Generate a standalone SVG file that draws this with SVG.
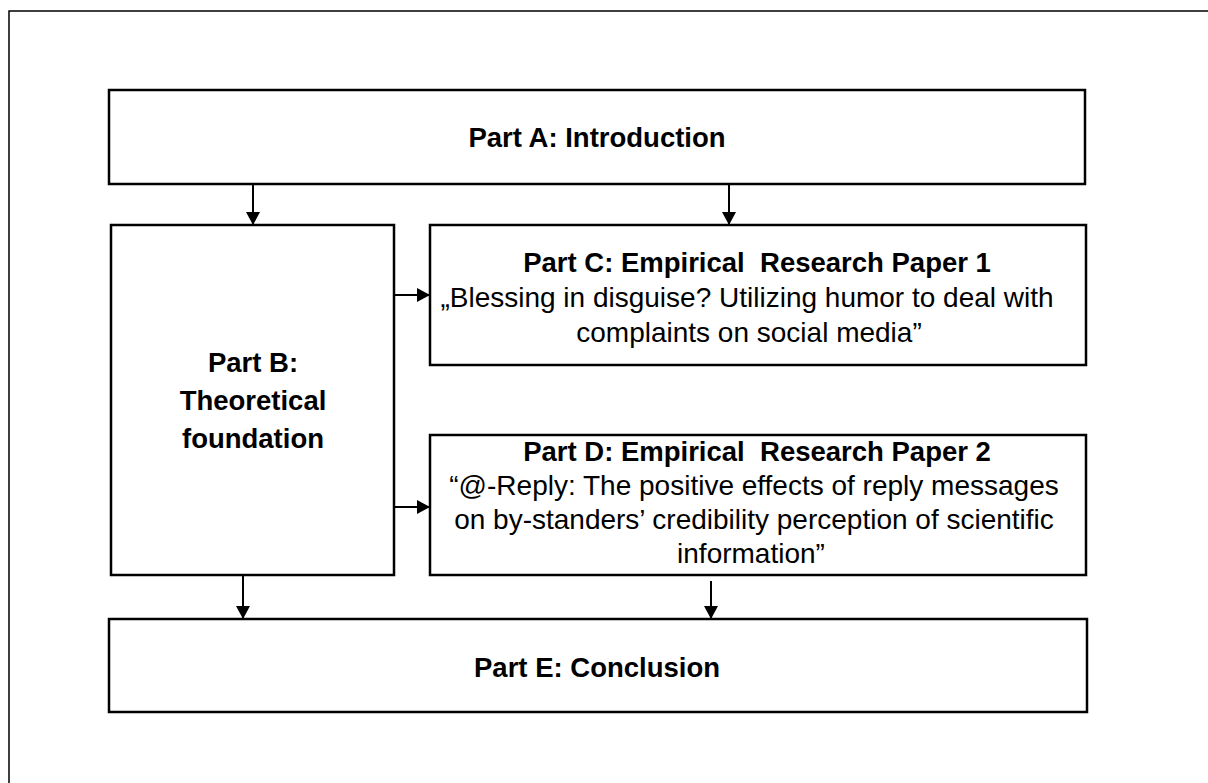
<svg xmlns="http://www.w3.org/2000/svg" width="1208" height="783" viewBox="0 0 1208 783">
<style>
.box{fill:#fff;stroke:#000;stroke-width:2.5}
.frame{fill:none;stroke:#000;stroke-width:1.5}
.b{font-family:"Liberation Sans",Arial,sans-serif;font-weight:bold;font-size:27.5px;fill:#000;text-anchor:middle;white-space:pre}
.r{font-family:"Liberation Sans",Arial,sans-serif;font-size:28px;fill:#000;text-anchor:middle;white-space:pre}
.c{stroke:#000;stroke-width:2;fill:none;marker-end:url(#ah)}
</style>
<defs>
<marker id="ah" markerWidth="14" markerHeight="14" refX="12" refY="7" orient="auto" markerUnits="userSpaceOnUse">
<path d="M0,0 L13,7 L0,14 Z" fill="#000"/>
</marker>
</defs>
<rect class="frame" x="9" y="11" width="1300" height="900"/>
<g id="connectors">
<line class="c" x1="253" y1="185" x2="253" y2="224"/>
<line class="c" x1="729" y1="185" x2="729" y2="224"/>
<line class="c" x1="395" y1="295" x2="429" y2="295"/>
<line class="c" x1="395" y1="507" x2="429" y2="507"/>
<line class="c" x1="243" y1="576" x2="243" y2="618"/>
<line class="c" x1="711" y1="581" x2="711" y2="618"/>
</g>
<g id="partA">
<rect class="box" x="109" y="90" width="976" height="94"/>
<text class="b" x="597" y="147">Part A: Introduction</text>
</g>
<g id="partB">
<rect class="box" x="111" y="225" width="283" height="350"/>
<text class="b" x="253" y="372">Part B:</text>
<text class="b" x="253" y="410">Theoretical</text>
<text class="b" x="253" y="448">foundation</text>
</g>
<g id="partC">
<rect class="box" x="430" y="225" width="656" height="140"/>
<text class="b" x="757" y="272">Part C: Empirical  Research Paper 1</text>
<text class="r" x="747" y="307">„Blessing in disguise? Utilizing humor to deal with</text>
<text class="r" x="749" y="342">complaints on social media”</text>
</g>
<g id="partD">
<rect class="box" x="430" y="435" width="656" height="140"/>
<text class="b" x="757" y="461">Part D: Empirical  Research Paper 2</text>
<text class="r" x="754" y="495">“@-Reply: The positive effects of reply messages</text>
<text class="r" x="754" y="529">on by-standers’ credibility perception of scientific</text>
<text class="r" x="751" y="563">information”</text>
</g>
<g id="partE">
<rect class="box" x="109" y="619" width="978" height="93"/>
<text class="b" x="597" y="677">Part E: Conclusion</text>
</g>
</svg>
